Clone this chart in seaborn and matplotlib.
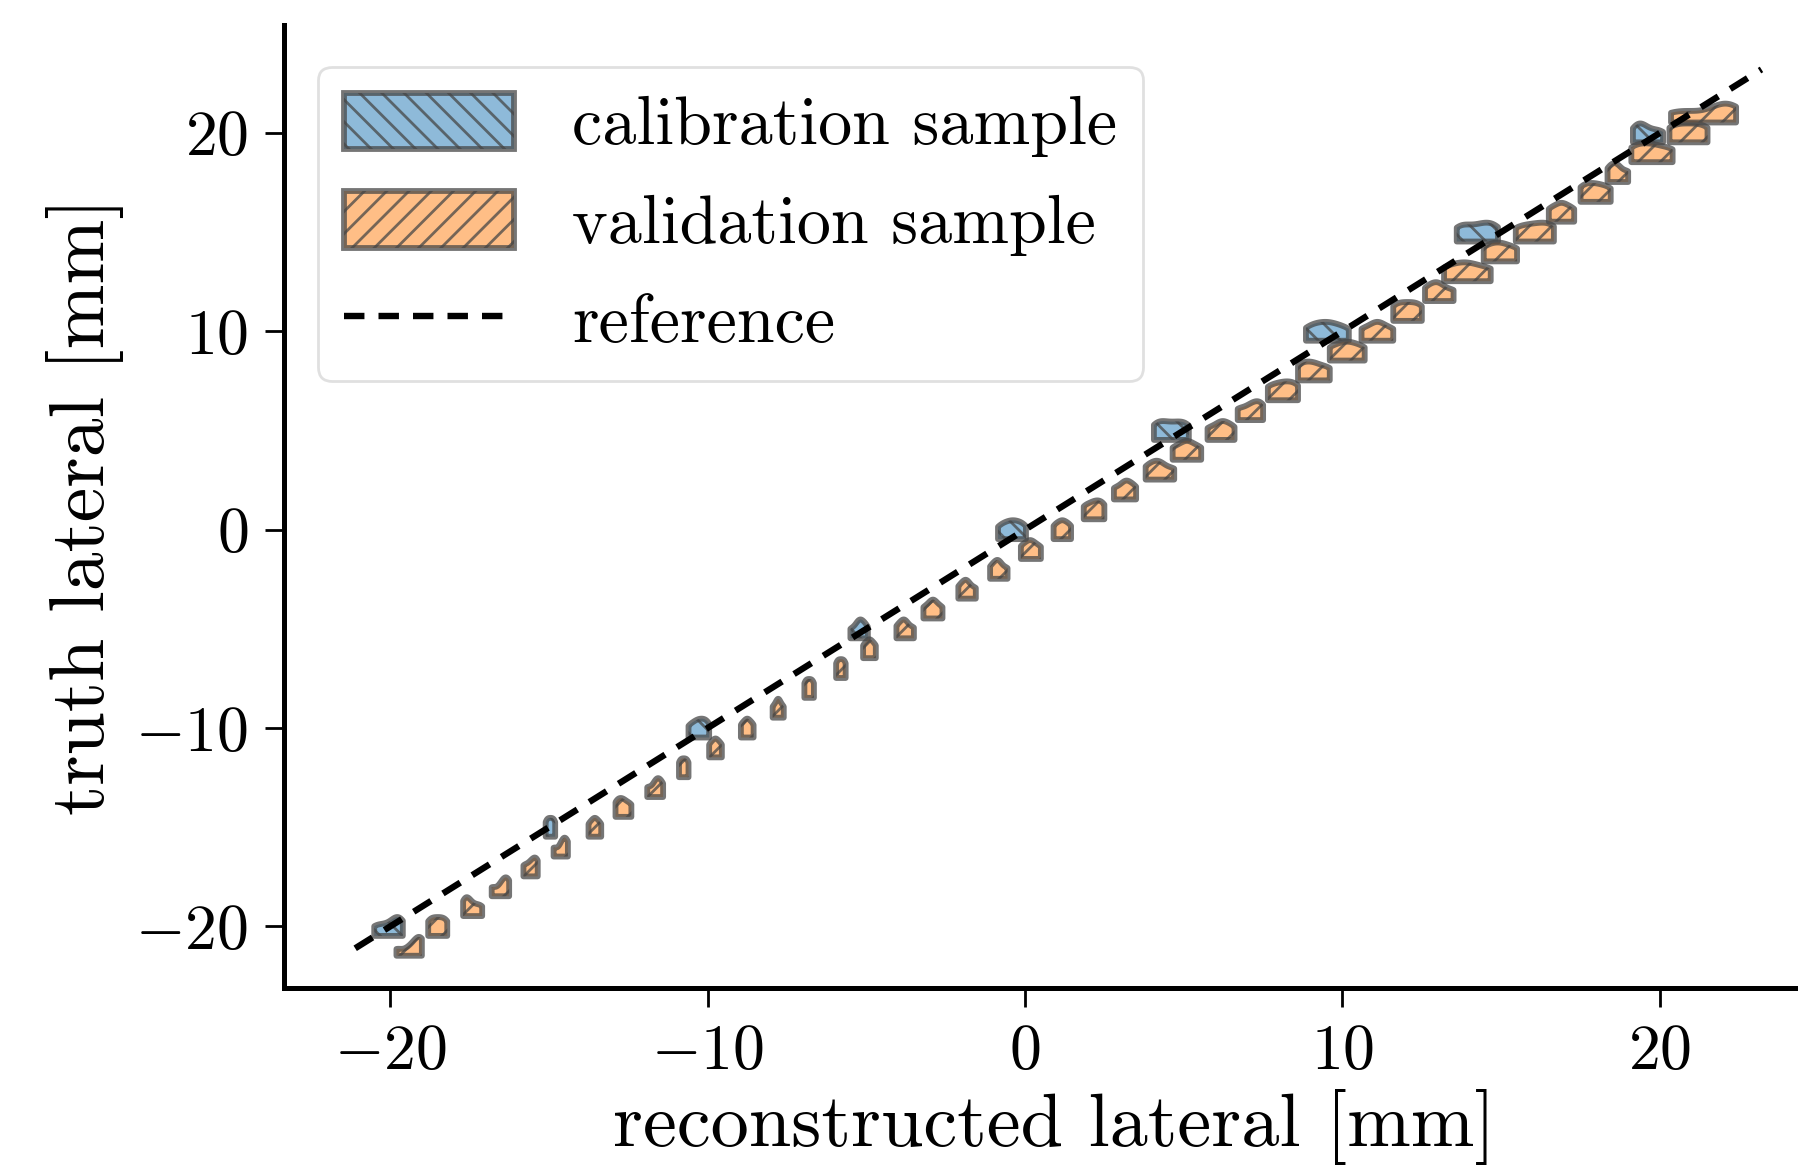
import numpy as np
import pandas as pd
import matplotlib
matplotlib.use("Agg")
import matplotlib.pyplot as plt
import seaborn as sns
from matplotlib.patches import Patch
from matplotlib.lines import Line2D

# ---------------- data ----------------
cal_truth = [-20, -15, -10, -5, 0, 5, 10, 15, 20]
cal_recon = [
    [-20.5, -20.2, -19.9, -19.75, -19.6],
    [-15.1, -15.0, -14.9, -14.8],
    [-10.6, -10.4, -10.25, -10.1, -9.95],
    [-5.5, -5.3, -5.2, -5.1, -4.95],
    [-0.85, -0.6, -0.4, -0.2, 0.03],
    [4.06, 4.3, 4.6, 4.9, 5.16],
    [8.85, 9.2, 9.5, 9.8, 10.2],
    [13.6, 13.9, 14.3, 14.6, 14.9],
    [19.15, 19.35, 19.5, 19.8, 20.1],
]

val_truth = [-21, -20, -19, -18, -17, -16, -15, -14, -13, -12, -11,
             -10, -9, -8, -7, -6, -5, -4, -3, -2, -1, 0,
             1, 2, 3, 4, 5, 6, 7, 8, 9, 10, 11,
             12, 13, 14, 15, 16, 17, 18, 19, 20, 21]
val_recon = [
    [-19.8, -19.4, -19.15, -19.05, -19.0],
    [-18.8, -18.6, -18.4, -18.2],
    [-17.7, -17.6, -17.5, -17.3, -17.1],
    [-16.8, -16.5, -16.35, -16.25],
    [-15.8, -15.6, -15.45, -15.35],
    [-14.85, -14.6, -14.5, -14.4],
    [-13.75, -13.6, -13.5, -13.35],
    [-12.9, -12.75, -12.6, -12.4],
    [-11.9, -11.65, -11.55, -11.4],
    [-10.9, -10.8, -10.7, -10.6],
    [-9.95, -9.8, -9.7, -9.55],
    [-8.95, -8.8, -8.7, -8.55],
    [-7.95, -7.8, -7.75, -7.6],
    [-6.95, -6.85, -6.75, -6.65],
    [-5.95, -5.85, -5.75, -5.65],
    [-5.1, -4.95, -4.85, -4.7],
    [-4.05, -3.85, -3.75, -3.5],
    [-3.2, -2.95, -2.85, -2.6],
    [-2.1, -1.9, -1.8, -1.55],
    [-1.1, -0.9, -0.8, -0.55],
    [-0.13, 0.1, 0.25, 0.5],
    [0.9, 1.1, 1.25, 1.45],
    [1.85, 2.1, 2.3, 2.5],
    [2.8, 3.1, 3.25, 3.5],
    [3.8, 4.1, 4.3, 4.7],
    [4.65, 5.0, 5.2, 5.55],
    [5.75, 6.1, 6.3, 6.6],
    [6.7, 7.05, 7.3, 7.5],
    [7.65, 8.0, 8.3, 8.6],
    [8.6, 8.9, 9.2, 9.6],
    [9.6, 10.0, 10.3, 10.7],
    [10.6, 11.0, 11.2, 11.6],
    [11.6, 11.9, 12.2, 12.5],
    [12.6, 12.9, 13.1, 13.5],
    [13.2, 13.7, 14.1, 14.67],
    [14.45, 14.8, 15.1, 15.5],
    [15.46, 15.9, 16.3, 16.66],
    [16.5, 16.8, 17.0, 17.3],
    [17.5, 17.8, 18.1, 18.45],
    [18.35, 18.55, 18.7, 19.0],
    [19.1, 19.5, 19.9, 20.4],
    [20.3, 20.7, 21.1, 21.5],
    [20.35, 21.0, 21.8, 22.1, 22.4],
]

ref_line = [-21.1, 23.2]
x_ticks = [-20, -10, 0, 10, 20]
y_ticks = [-20, -10, 0, 10, 20]

labels = ["calibration sample", "validation sample", "reference"]


def to_long(truths, recons, name):
    rows = []
    for t, rs in zip(truths, recons):
        for r in rs:
            rows.append((t, r, name))
    return pd.DataFrame(rows, columns=["truth", "recon", "sample"])


cal_df = to_long(cal_truth, cal_recon, "cal")
val_df = to_long(val_truth, val_recon, "val")

# ---------------- style ----------------
sns.set_theme(style="ticks")
plt.rcParams.update({
    "font.family": "serif",
    "font.serif": ["cmr10", "DejaVu Serif"],
    "mathtext.fontset": "cm",
    "axes.formatter.use_mathtext": True,
    "axes.unicode_minus": True,
    "hatch.color": "#222222",
    "hatch.linewidth": 1.0,
    "text.color": "black",
    "axes.labelcolor": "black",
    "axes.edgecolor": "black",
    "xtick.color": "black",
    "ytick.color": "black",
})

blue = sns.color_palette("tab10")[0]
orange = sns.color_palette("tab10")[1]

fig = plt.figure(figsize=(8.99, 5.835), dpi=200)
ax = fig.add_axes([0.158, 0.1534, 0.842, 0.8252])

edge = (0.28, 0.28, 0.28, 0.75)
lw = 2.1

n0 = len(ax.collections)
sns.violinplot(data=cal_df, x="recon", y="truth", hue="sample",
               hue_order=["_pad", "cal"], palette={"_pad": blue, "cal": blue},
               orient="y", native_scale=True, split=True, dodge=False,
               inner=None, cut=0, density_norm="width", width=0.19,
               bw_adjust=0.75, linewidth=lw, legend=False, ax=ax)
n1 = len(ax.collections)
sns.violinplot(data=val_df, x="recon", y="truth", hue="sample",
               hue_order=["_pad", "val"], palette={"_pad": orange, "val": orange},
               orient="y", native_scale=True, split=True, dodge=False,
               inner=None, cut=0, density_norm="width", width=0.95,
               bw_adjust=0.75, linewidth=lw, legend=False, ax=ax)
n2 = len(ax.collections)

for c in ax.collections[n0:n1]:
    c.set_facecolor((*blue, 0.5))
    c.set_edgecolor(edge)
    c.set_hatch("\\\\\\")
for c in ax.collections[n1:n2]:
    c.set_facecolor((*orange, 0.5))
    c.set_edgecolor(edge)
    c.set_hatch("///")

sns.lineplot(x=ref_line, y=ref_line, color="black", linestyle=(0, (3.2, 2.2)),
             linewidth=2.3, ax=ax, zorder=5)

ax.set_xlim(-23.34, 24.35)
ax.set_ylim(-23.1, 25.44)
ax.set_xticks(x_ticks)
ax.set_yticks(y_ticks)
ax.tick_params(axis="both", which="major", labelsize=23, length=7, width=1.0,
               direction="out", pad=6)
for s in ["left", "bottom"]:
    ax.spines[s].set_linewidth(1.8)
sns.despine(ax=ax)

ax.set_xlabel("reconstructed lateral [mm]", fontsize=27.5, labelpad=2.5)
ax.xaxis.label.set_x(0.509)
ax.set_ylabel("truth lateral [mm]", fontsize=28, labelpad=4)

handles = [
    Patch(facecolor=(*blue, 0.5), edgecolor=edge, hatch="\\\\\\", linewidth=lw),
    Patch(facecolor=(*orange, 0.5), edgecolor=edge, hatch="///", linewidth=lw),
    Line2D([0], [0], color="black", linestyle=(0, (3.2, 2.2)), linewidth=2.3),
]
leg = ax.legend(handles, labels, loc="upper left", fontsize=24.5,
                bbox_to_anchor=(0.0, 0.992), handlelength=2.5, handleheight=0.9,
                handletextpad=0.85, labelspacing=0.5, borderpad=0.38,
                frameon=True, fancybox=True)
leg.get_frame().set_edgecolor("0.85")

fig.savefig("out.png", dpi=200)
